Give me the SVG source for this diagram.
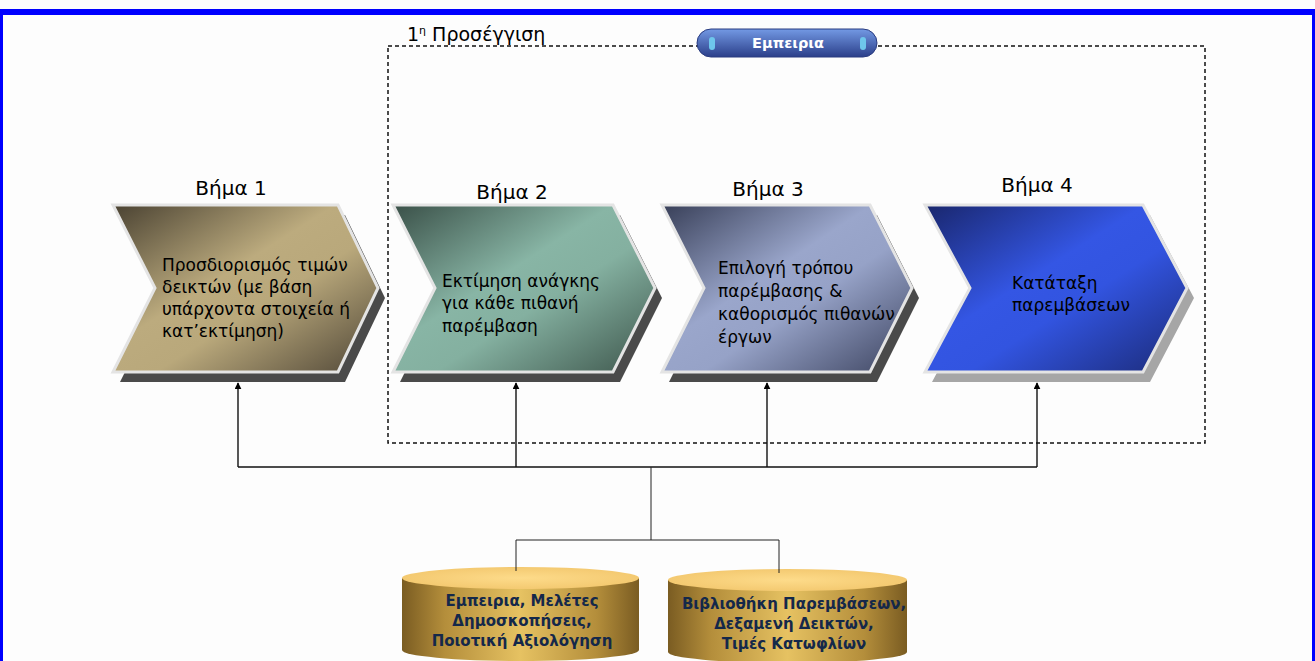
<svg xmlns="http://www.w3.org/2000/svg" width="1315" height="661" viewBox="0 0 1315 661">
<style>
.title{font-family:"DejaVu Sans","Liberation Sans",sans-serif;font-size:20px;fill:#000}
.body{font-family:"DejaVu Sans","Liberation Sans",sans-serif;font-size:17px;fill:#000}
.cyl{font-family:"DejaVu Sans","Liberation Sans",sans-serif;font-size:15px;font-weight:bold;fill:#14284a;text-anchor:middle}
.chev{stroke:#e4e4e4;stroke-width:3;stroke-linejoin:miter}
.conn{stroke:#111;stroke-width:1.4;fill:none}
.thin{stroke:#222;stroke-width:1;fill:none}
</style>
<defs>
<marker id="ah" viewBox="0 0 10 10" refX="9" refY="5" markerWidth="7" markerHeight="7" markerUnits="userSpaceOnUse" orient="auto">
<path d="M0,0 L10,5 L0,10 z" fill="#000"/>
</marker>
<linearGradient id="g1" x1="0" y1="0" x2="1" y2="1">
<stop offset="0" stop-color="#4a4232"/><stop offset="0.42" stop-color="#bcab7e"/><stop offset="0.58" stop-color="#b9a87b"/><stop offset="1" stop-color="#4e4536"/>
</linearGradient>
<linearGradient id="g2" x1="0" y1="0" x2="1" y2="1">
<stop offset="0" stop-color="#3a5048"/><stop offset="0.42" stop-color="#88b5a5"/><stop offset="0.58" stop-color="#84b0a0"/><stop offset="1" stop-color="#3d554b"/>
</linearGradient>
<linearGradient id="g3" x1="0" y1="0" x2="1" y2="1">
<stop offset="0" stop-color="#383f58"/><stop offset="0.42" stop-color="#9aa6cb"/><stop offset="0.58" stop-color="#96a2c7"/><stop offset="1" stop-color="#3b425e"/>
</linearGradient>
<linearGradient id="g4" x1="0" y1="0" x2="1" y2="1">
<stop offset="0" stop-color="#19266c"/><stop offset="0.42" stop-color="#3456e4"/><stop offset="0.58" stop-color="#3254e0"/><stop offset="1" stop-color="#1b2a76"/>
</linearGradient>
<linearGradient id="pill" x1="0" y1="0" x2="0" y2="1">
<stop offset="0" stop-color="#7399e4"/><stop offset="1" stop-color="#2b3f8a"/>
</linearGradient>
<linearGradient id="cylBody" x1="0" y1="0" x2="1" y2="0">
<stop offset="0" stop-color="#7a5c22"/><stop offset="0.18" stop-color="#b48e3b"/><stop offset="0.5" stop-color="#e6c262"/><stop offset="0.82" stop-color="#b48e3b"/><stop offset="1" stop-color="#7a5c22"/>
</linearGradient>
<radialGradient id="cylTop" cx="0.5" cy="0.5" r="0.6">
<stop offset="0" stop-color="#fddb8a"/><stop offset="1" stop-color="#f2c66c"/>
</radialGradient>
</defs>
<rect width="1315" height="661" fill="#fdfdfd"/>
<rect x="0" y="12" width="1315" height="700" fill="none" stroke="#0000ff" stroke-width="6"/>

<g id="approach">
<rect x="388" y="46" width="817" height="397" fill="none" stroke="#111" stroke-width="1.5" stroke-dasharray="4,3"/>
<text x="407" y="41" font-family="DejaVu Sans, Liberation Sans, sans-serif" font-size="19" fill="#000">1<tspan font-size="11" dy="-7">η</tspan><tspan dy="7"> Προσέγγιση</tspan></text>
</g>

<g id="experience-pill">
<rect x="697" y="29" width="180" height="28" rx="14" fill="url(#pill)" stroke="#2a3c80" stroke-width="1"/>
<rect x="709" y="37" width="6" height="13" rx="3" fill="#6ec6ec"/>
<rect x="860" y="37" width="6" height="13" rx="3" fill="#6ec6ec"/>
<text x="788" y="48" font-family="DejaVu Sans, Liberation Sans, sans-serif" font-size="14.5" font-weight="bold" fill="#fff" text-anchor="middle">Εμπειρια</text>
</g>

<g id="step1">
<polygon points="120,215 345,215 385,298 345,382 120,382 162,298" fill="#4a4a4a"/>
<polygon class="chev" points="113,205 338,205 378,288 338,372 113,372 155,288" fill="url(#g1)"/>
<text class="title" x="231" y="195" text-anchor="middle">Βήμα 1</text>
<text class="body"><tspan x="162" y="271">Προσδιορισμός τιμών</tspan><tspan x="162" y="293">δεικτών (με βάση</tspan><tspan x="162" y="315">υπάρχοντα στοιχεία ή</tspan><tspan x="162" y="337">κατ’εκτίμηση)</tspan></text>
</g>

<g id="step2">
<polygon points="400,215 620,215 662,298 620,382 400,382 442,298" fill="#4a4a4a"/>
<polygon class="chev" points="393,205 613,205 655,288 613,372 393,372 435,288" fill="url(#g2)"/>
<text class="title" x="512" y="199" text-anchor="middle">Βήμα 2</text>
<text class="body"><tspan x="442" y="287">Εκτίμηση ανάγκης</tspan><tspan x="442" y="309">για κάθε πιθανή</tspan><tspan x="442" y="332">παρέμβαση</tspan></text>
</g>

<g id="step3">
<polygon points="669,215 877,215 919,298 877,382 669,382 711,298" fill="#4a4a4a"/>
<polygon class="chev" points="662,205 870,205 912,288 870,372 662,372 704,288" fill="url(#g3)"/>
<text class="title" x="768" y="196" text-anchor="middle">Βήμα 3</text>
<text class="body"><tspan x="718" y="274">Επιλογή τρόπου</tspan><tspan x="718" y="297">παρέμβασης &amp;</tspan><tspan x="718" y="320">καθορισμός πιθανών</tspan><tspan x="718" y="343">έργων</tspan></text>
</g>

<g id="step4">
<polygon points="932,215 1150,215 1194,298 1150,382 932,382 977,298" fill="#a6a6a6"/>
<polygon class="chev" points="925,205 1143,205 1187,288 1143,372 925,372 970,288" fill="url(#g4)"/>
<text class="title" x="1037" y="192" text-anchor="middle">Βήμα 4</text>
<text class="body"><tspan x="1012" y="289">Κατάταξη</tspan><tspan x="1012" y="311">παρεμβάσεων</tspan></text>
</g>

<g id="connectors">
<polyline class="conn" points="238,467 1037,467"/>
<line class="conn" x1="238" y1="467" x2="238" y2="383" marker-end="url(#ah)"/>
<line class="conn" x1="516" y1="467" x2="516" y2="383" marker-end="url(#ah)"/>
<line class="conn" x1="767" y1="467" x2="767" y2="383" marker-end="url(#ah)"/>
<line class="conn" x1="1037" y1="467" x2="1037" y2="383" marker-end="url(#ah)"/>
<line class="thin" x1="651" y1="467" x2="651" y2="540"/>
<polyline class="thin" points="516,571 516,540 779,540 779,572"/>
</g>

<g id="db1">
<path d="M402,578 L402,650 A118.5,11 0 0 0 639,650 L639,578 Z" fill="url(#cylBody)"/>
<ellipse cx="520.5" cy="578" rx="118.5" ry="11" fill="url(#cylTop)"/>
<line class="thin" x1="516" y1="567" x2="516" y2="571"/>
<text class="cyl"><tspan x="522" y="606">Εμπειρια, Μελέτες</tspan><tspan x="522" y="626">Δημοσκοπήσεις,</tspan><tspan x="522" y="646">Ποιοτική Αξιολόγηση</tspan></text>
</g>

<g id="db2">
<path d="M668,580 L668,652 A119.5,11 0 0 0 907,652 L907,580 Z" fill="url(#cylBody)"/>
<ellipse cx="787.5" cy="580" rx="119.5" ry="11" fill="url(#cylTop)"/>
<line class="thin" x1="779" y1="569" x2="779" y2="573"/>
<text class="cyl"><tspan x="794" y="609">Βιβλιοθήκη Παρεμβάσεων,</tspan><tspan x="794" y="629">Δεξαμενή Δεικτών,</tspan><tspan x="794" y="649">Τιμές Κατωφλίων</tspan></text>
</g>
</svg>
